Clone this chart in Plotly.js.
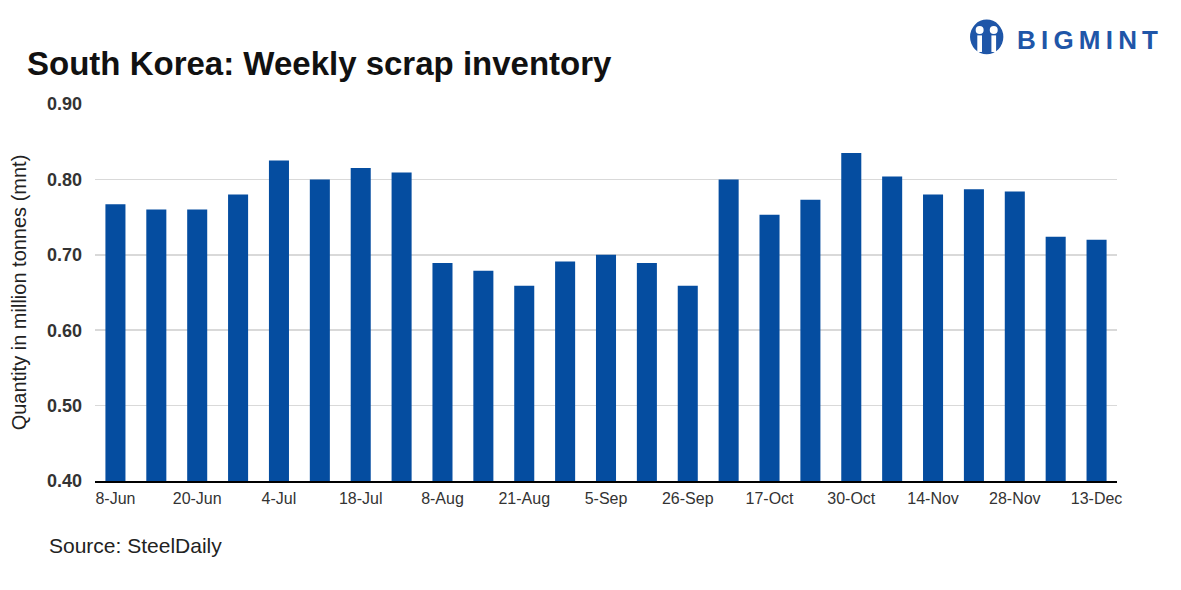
<!DOCTYPE html>
<html>
<head>
<meta charset="utf-8">
<script src="https://cdn.plot.ly/plotly-3.0.1.min.js"></script>
<style>
  html, body { margin: 0; padding: 0; background: #ffffff; }
  #chart { width: 1181px; height: 590px; }
</style>
</head>
<body>
<div id="chart"></div>
<script>
// Week labels (every other one shown on the axis, as in the reference)
const weeks = [
  "8-Jun", "14-Jun", "20-Jun", "27-Jun", "4-Jul", "11-Jul", "18-Jul", "25-Jul",
  "8-Aug", "14-Aug", "21-Aug", "29-Aug", "5-Sep", "12-Sep", "26-Sep", "10-Oct",
  "17-Oct", "24-Oct", "30-Oct", "7-Nov", "14-Nov", "21-Nov", "28-Nov", "5-Dec", "13-Dec"
];
// Scrap inventory, million tonnes
const inventory = [
  0.767, 0.760, 0.760, 0.780, 0.825, 0.800, 0.815, 0.809,
  0.689, 0.679, 0.659, 0.691, 0.700, 0.689, 0.659, 0.800,
  0.753, 0.773, 0.835, 0.804, 0.780, 0.787, 0.784, 0.724, 0.720
];
const shownTicks = weeks.filter((w, i) => i % 2 === 0);
const yTicks = [0.40, 0.50, 0.60, 0.70, 0.80, 0.90];

const FONT = "Liberation Sans, Arial, sans-serif";
const BLUE = "#054DA0";
const LOGO = "#1F56A8";

const trace = {
  type: "bar",
  x: weeks,
  y: inventory,
  marker: { color: BLUE, line: { width: 0 } },
  hoverinfo: "x+y"
};

// logo disc geometry (paper coords)
const cx = 0.8725, cy = 1.178, rx = 0.0163, ry = 0.046;

const layout = {
  width: 1181,
  height: 590,
  paper_bgcolor: "#ffffff",
  plot_bgcolor: "#ffffff",
  margin: { l: 95, r: 64, t: 104, b: 109 },
  bargap: 0.51,
  showlegend: false,
  font: { family: FONT, color: "#222222" },
  title: {
    text: "<b>South Korea: Weekly scrap inventory</b>",
    font: { family: FONT, size: 33, color: "#111111" },
    x: 0.0229, xref: "container", xanchor: "left",
    y: 0.893, yref: "container", yanchor: "middle"
  },
  xaxis: {
    type: "category",
    tickmode: "array",
    tickvals: shownTicks,
    ticktext: shownTicks,
    tickfont: { family: FONT, size: 16, color: "#333333" },
    ticks: "",
    ticklabelstandoff: 2,
    showgrid: false,
    showline: true,
    linecolor: "#000000",
    linewidth: 2,
    zeroline: false,
    automargin: false
  },
  yaxis: {
    range: [0.40, 0.90],
    tickmode: "array",
    tickvals: yTicks,
    ticktext: yTicks.map(v => "<b>" + v.toFixed(2) + "</b>"),
    tickfont: { family: FONT, size: 18, color: "#333333" },
    ticks: "",
    ticklabelstandoff: 12,
    showgrid: true,
    gridcolor: "#D9D9D9",
    gridwidth: 1.5,
    showline: false,
    zeroline: false,
    automargin: false,
    title: {
      text: "Quantity in million tonnes (mnt)",
      font: { family: FONT, size: 20, color: "#222222" },
      standoff: 14
    }
  },
  annotations: [
    {
      text: "Source: SteelDaily",
      xref: "paper", yref: "paper",
      x: -0.047, y: -0.171,
      xanchor: "left", yanchor: "middle",
      showarrow: false,
      font: { family: FONT, size: 21, color: "#222222" }
    },
    {
      text: "<b>B\u2009I\u2009G\u2009M\u2009I\u2009N\u2009T</b>",
      xref: "paper", yref: "paper",
      x: 1.042, y: 1.170,
      xanchor: "right", yanchor: "middle",
      showarrow: false,
      font: { family: FONT, size: 26, color: LOGO }
    }
  ],
  shapes: [
    // logo mark: blue disc with two stylised figures
    { type: "circle", xref: "paper", yref: "paper", layer: "above",
      x0: cx - rx, x1: cx + rx, y0: cy - ry, y1: cy + ry,
      fillcolor: LOGO, line: { width: 0 } },
    { type: "circle", xref: "paper", yref: "paper", layer: "above",
      x0: cx - 0.0108, x1: cx - 0.0030, y0: cy + 0.008, y1: cy + 0.029,
      fillcolor: "#ffffff", line: { width: 0 } },
    { type: "circle", xref: "paper", yref: "paper", layer: "above",
      x0: cx + 0.0030, x1: cx + 0.0108, y0: cy + 0.008, y1: cy + 0.029,
      fillcolor: "#ffffff", line: { width: 0 } },
    { type: "rect", xref: "paper", yref: "paper", layer: "above",
      x0: cx - 0.0092, x1: cx - 0.0046, y0: cy - 0.040, y1: cy + 0.004,
      fillcolor: "#ffffff", line: { width: 0 } },
    { type: "rect", xref: "paper", yref: "paper", layer: "above",
      x0: cx + 0.0046, x1: cx + 0.0092, y0: cy - 0.040, y1: cy + 0.004,
      fillcolor: "#ffffff", line: { width: 0 } }
  ]
};

Plotly.newPlot("chart", [trace], layout, { displayModeBar: false, staticPlot: true });
</script>
</body>
</html>
